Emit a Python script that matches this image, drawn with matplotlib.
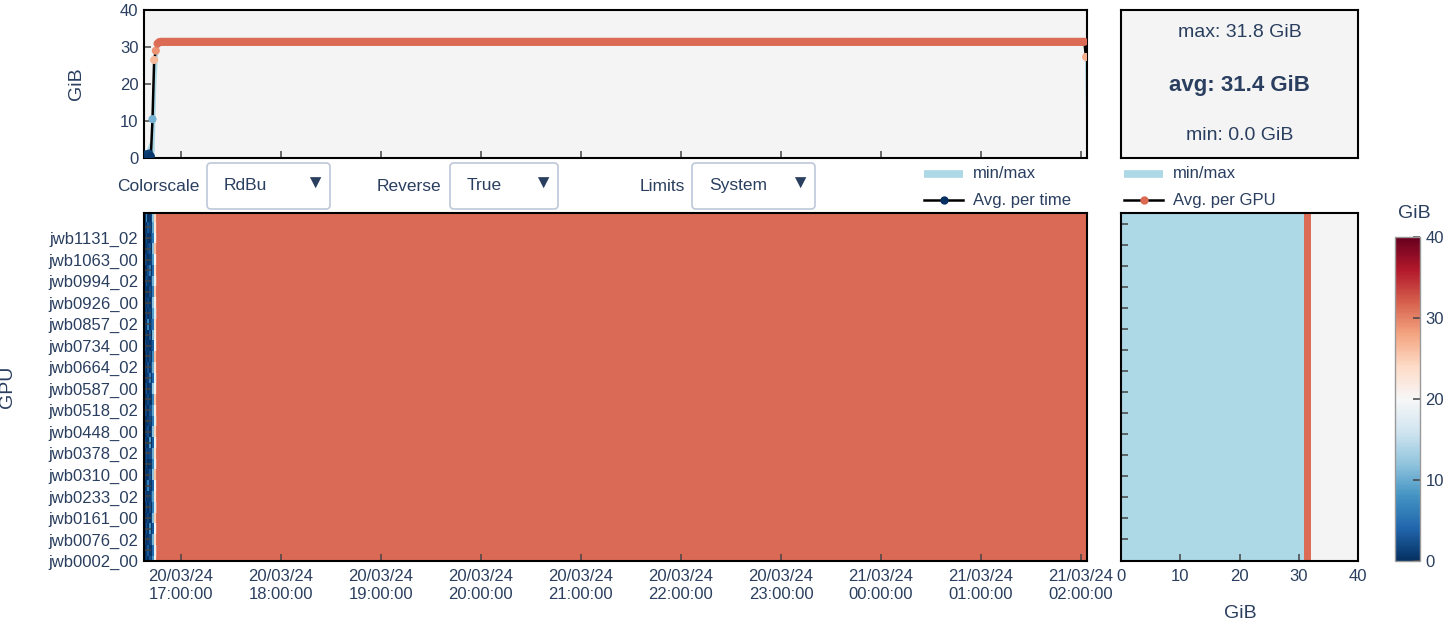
import matplotlib
matplotlib.use("Agg")
import matplotlib.pyplot as plt
import matplotlib.dates as mdates
from matplotlib.lines import Line2D
from matplotlib.patches import FancyBboxPatch
from matplotlib.transforms import IdentityTransform
import numpy as np
import pandas as pd

W, H = 1446, 624
text_color = "#2a3f5f"
plot_bg = "#f4f4f4"
tick_color = "#444444"
plt.rcParams["font.family"] = ["Liberation Sans", "DejaVu Sans"]
plt.rcParams["text.color"] = text_color

# ---- data ----
gpu_labels = ["jwb0002_00", "jwb0076_02", "jwb0161_00", "jwb0233_02", "jwb0310_00",
              "jwb0378_02", "jwb0448_00", "jwb0518_02", "jwb0587_00", "jwb0664_02",
              "jwb0734_00", "jwb0857_02", "jwb0926_00", "jwb0994_02", "jwb1063_00",
              "jwb1131_02"]

# one sample per minute
t_first = "2024-03-20 16:39"
t_last = "2024-03-21 02:03"

# avg / min / max over all GPUs per time step: start ramp, plateau, last sample
avg_ramp = [1.0, 0.6, 1.2, 0.5, 10.5, 26.5, 29.0, 30.9, 31.3]
min_ramp = [0.0, 0.0, 0.0, 0.0, 0.0, 2.0, 20.0, 28.0, 30.5]
max_ramp = [2.0, 3.0, 4.4, 2.0, 12.0, 28.0, 31.5, 31.8, 31.8]
avg_plateau, min_plateau, max_plateau = 31.4, 30.9, 31.8
avg_end, min_end, max_end = 27.3, 0.0, 31.8

# per GPU row: first minutes of the heatmap (GiB), bottom row first
heat_ramp = [
    [0.4, 1.2, 0.3, 2.5, 1.1, 8.0, 21.0, 30.2],
    [0.2, 0.8, 2.9, 0.6, 0.4, 4.5, 18.0, 29.5],
    [1.5, 0.3, 0.9, 1.8, 2.2, 10.5, 24.0, 30.8],
    [0.1, 2.4, 0.5, 7.5, 0.6, 3.0, 19.5, 29.8],
    [0.9, 0.4, 1.6, 0.2, 1.5, 11.0, 25.0, 30.9],
    [0.3, 1.9, 0.2, 2.2, 0.3, 6.0, 17.0, 29.1],
    [2.6, 0.5, 1.1, 0.8, 2.7, 9.0, 22.5, 30.4],
    [0.2, 0.9, 6.5, 1.4, 0.5, 4.0, 20.0, 30.0],
    [1.1, 0.2, 0.7, 2.8, 1.2, 12.0, 26.0, 31.0],
    [0.5, 1.6, 0.3, 0.4, 0.8, 7.0, 18.5, 29.6],
    [0.3, 2.2, 1.4, 1.9, 2.0, 10.0, 23.5, 30.6],
    [1.8, 0.4, 0.6, 8.5, 0.3, 3.5, 19.0, 29.7],
    [0.6, 1.0, 2.3, 0.3, 1.7, 11.5, 24.5, 30.8],
    [0.2, 0.3, 0.8, 1.6, 0.9, 5.5, 17.5, 29.3],
    [2.1, 1.4, 0.2, 2.4, 2.5, 9.5, 21.5, 30.3],
    [0.4, 0.6, 1.8, 0.5, 0.4, 6.5, 25.5, 30.9],
    [0.8, 2.7, 0.4, 1.2, 1.9, 12.5, 20.5, 30.1],
    [0.3, 0.5, 1.3, 6.0, 0.7, 4.0, 18.0, 29.4],
    [1.4, 0.2, 2.6, 0.7, 2.3, 10.0, 23.0, 30.5],
    [0.2, 1.7, 0.5, 2.1, 0.5, 7.5, 26.5, 31.0],
    [2.4, 0.6, 0.9, 0.3, 1.4, 3.5, 19.5, 29.8],
    [0.5, 1.1, 0.2, 2.7, 0.2, 11.0, 22.0, 30.4],
    [0.9, 0.3, 7.0, 0.9, 2.8, 5.0, 24.0, 30.7],
    [0.2, 2.0, 0.6, 1.5, 0.6, 9.0, 17.0, 29.2],
    [1.6, 0.4, 1.5, 0.4, 1.3, 12.0, 21.0, 30.2],
    [0.4, 0.8, 0.3, 2.3, 0.9, 6.0, 25.0, 30.9],
    [0.7, 2.5, 1.0, 0.6, 2.1, 10.5, 18.5, 29.6],
    [0.3, 0.2, 2.2, 5.5, 0.4, 4.5, 23.5, 30.6],
    [2.2, 1.3, 0.4, 1.0, 1.6, 8.5, 20.0, 30.0],
    [0.5, 0.6, 1.7, 2.6, 0.3, 11.5, 26.0, 31.0],
    [0.2, 1.8, 0.5, 0.2, 2.4, 5.5, 19.0, 29.7],
    [1.3, 0.4, 2.8, 1.7, 0.8, 9.5, 22.5, 30.4],
    [0.6, 7.8, 0.3, 0.5, 1.8, 12.0, 24.5, 30.8],
    [0.3, 0.9, 1.2, 2.0, 0.5, 7.0, 18.0, 29.4],
]

gpu_avg = [31.4] * 34
gpu_max = [31.8, 31.7, 31.8, 31.8, 31.7, 31.8, 31.7, 31.8, 31.8, 31.8, 31.7, 31.7,
           31.8, 31.8, 31.8, 31.7, 31.7, 31.8, 31.8, 31.8, 31.8, 31.7, 31.8, 31.7,
           31.8, 31.8, 31.7, 31.7, 31.8, 31.8, 31.8, 31.7, 31.7, 31.8]
gpu_min = [0.0] * 34

stat_max, stat_avg, stat_min = 31.8, 31.4, 0.0

# ---- assemble series ----
times = pd.date_range(t_first, t_last, freq="min")
n_plat = len(times) - len(avg_ramp) - 1
avg_t = np.array(avg_ramp + [avg_plateau] * n_plat + [avg_end])
min_t = np.array(min_ramp + [min_plateau] * n_plat + [min_end])
max_t = np.array(max_ramp + [max_plateau] * n_plat + [max_end])

ramp = np.array(heat_ramp)
n_rows = ramp.shape[0]
plateau_cols = len(times) - ramp.shape[1]
heat = np.hstack([ramp, np.repeat(np.array(gpu_avg)[:, None], plateau_cols, axis=1)])
row_y = np.arange(n_rows) * 0.5

x_lo = mdates.date2num(pd.Timestamp("2024-03-20 16:37:54"))
x_hi = mdates.date2num(pd.Timestamp("2024-03-21 02:03:36"))
hours = mdates.date2num(pd.date_range("2024-03-20 17:00", "2024-03-21 02:00", freq="h"))
cmap = plt.get_cmap("RdBu_r")


def rect(x0, y0, x1, y1):
    return [x0 / W, 1 - y1 / H, (x1 - x0) / W, (y1 - y0) / H]


def style_axes(ax):
    for s in ax.spines.values():
        s.set_color("black")
        s.set_linewidth(1.5)
    ax.tick_params(which="both", direction="in", length=5, width=1.1, color=tick_color,
                   labelsize=12, labelcolor=text_color, pad=4)


fig = plt.figure(figsize=(W / 100, H / 100), dpi=100)
fig.patch.set_facecolor("white")

# ---- top: avg per time ----
ax_top = fig.add_axes(rect(144, 10, 1087, 158))
ax_top.set_facecolor(plot_bg)
ax_top.fill_between(times, min_t, max_t, color="lightblue", lw=0, zorder=1)
ax_top.plot(times, avg_t, color="black", lw=1.8, zorder=2)
ax_top.scatter(times, avg_t, c=avg_t, cmap=cmap, vmin=0, vmax=40, s=34, linewidths=0, zorder=3)
ax_top.set_xlim(x_lo, x_hi)
ax_top.set_ylim(0, 40)
ax_top.set_yticks([0, 10, 20, 30, 40])
ax_top.set_xticks(hours)
ax_top.tick_params(labelbottom=False)
style_axes(ax_top)

# ---- stats box ----
ax_st = fig.add_axes(rect(1121, 10, 1358, 158))
ax_st.set_facecolor(plot_bg)
ax_st.set_xticks([])
ax_st.set_yticks([])
style_axes(ax_st)
ax_st.text(0.5, 0.851, f"max: {stat_max:.1f} GiB", ha="center", va="center", fontsize=14, transform=ax_st.transAxes)
ax_st.text(0.5, 0.493, f"avg: {stat_avg:.1f} GiB", ha="center", va="center", fontsize=16,
           fontweight="bold", transform=ax_st.transAxes)
ax_st.text(0.5, 0.155, f"min: {stat_min:.1f} GiB", ha="center", va="center", fontsize=14, transform=ax_st.transAxes)

# ---- heatmap ----
ax_h = fig.add_axes(rect(144, 213, 1087, 561))
im = ax_h.imshow(heat, aspect="auto", origin="lower", cmap=cmap, vmin=0, vmax=40,
                 interpolation="nearest", extent=[x_lo, x_hi, -0.25, n_rows * 0.5 - 0.25])
ax_h.set_xlim(x_lo, x_hi)
ax_h.set_ylim(0, 16.16)
ax_h.set_xticks(hours)
ax_h.xaxis.set_major_formatter(mdates.DateFormatter("%d/%m/%y\n%H:%M:%S"))
ax_h.set_yticks(np.arange(len(gpu_labels)))
ax_h.set_yticklabels(gpu_labels)
ax_h.set_yticks(np.arange(len(gpu_labels)) + 0.5, minor=True)
style_axes(ax_h)
ax_h.tick_params(axis="x", pad=6)

# ---- right: per GPU ----
ax_g = fig.add_axes(rect(1121, 213, 1358, 561))
ax_g.set_facecolor(plot_bg)
ax_g.fill_betweenx(row_y, gpu_min, gpu_max, color="lightblue", lw=0, zorder=1)
ax_g.plot(gpu_avg, row_y, color=cmap(np.mean(gpu_avg) / 40), lw=5, solid_capstyle="butt", zorder=2)
ax_g.set_xlim(0, 40)
ax_g.set_ylim(0, 16.16)
ax_g.set_xticks([0, 10, 20, 30, 40])
ax_g.set_yticks((561 - (539 - 21 * np.arange(16))) / 21.53)
ax_g.tick_params(labelleft=False)
style_axes(ax_g)
ax_g.tick_params(axis="x", pad=6)

# ---- colorbar ----
ax_cb = fig.add_axes(rect(1395, 237, 1420, 561))
cb = fig.colorbar(im, cax=ax_cb, ticks=[0, 10, 20, 30, 40])
cb.outline.set_edgecolor("#999999")
cb.outline.set_linewidth(1)
ax_cb.tick_params(direction="in", length=5, width=1.1, color=tick_color, labelsize=12,
                  labelcolor=text_color, pad=4)

# ---- titles ----
fig.text(77 / W, 1 - 84 / H, "GiB", rotation=90, ha="center", va="center", fontsize=14)
fig.text(8 / W, 1 - 387 / H, "GPU", rotation=90, ha="center", va="center", fontsize=14)
fig.text(1240 / W, 1 - 614 / H, "GiB", ha="center", va="center", fontsize=14)
fig.text(1414 / W, 1 - 214 / H, "GiB", ha="center", va="center", fontsize=14)

# ---- dropdowns ----
idt = IdentityTransform()
menus = [("Colorscale", 117, 207, 330, "RdBu"),
         ("Reverse", 377, 450, 558, "True"),
         ("Limits", 640, 692, 815, "System")]
for label, lx, bx0, bx1, value in menus:
    fig.text(lx / W, 1 - 186 / H, label, ha="left", va="center", fontsize=12.5)
    box = FancyBboxPatch((bx0, H - 209), bx1 - bx0, 46, boxstyle="round,pad=0,rounding_size=4",
                         fc="white", ec="#bec8d9", lw=1.2, transform=idt)
    fig.add_artist(box)
    fig.text((bx0 + 17) / W, 1 - 185 / H, value, ha="left", va="center", fontsize=12.5)
    fig.text((bx1 - 15) / W, 1 - 184 / H, "\u25bc", ha="center", va="center", fontsize=14)

# ---- legends ----
for lx, avg_label, mcol in [(924, "Avg. per time", cmap(0.0)), (1124, "Avg. per GPU", cmap(31.4 / 40))]:
    fig.add_artist(Line2D([lx, lx + 39], [H - 174, H - 174], color="lightblue", lw=5.5,
                          solid_capstyle="butt", transform=idt))
    fig.text((lx + 49) / W, 1 - 174 / H, "min/max", ha="left", va="center", fontsize=12)
    fig.add_artist(Line2D([lx, lx + 39], [H - 200, H - 200], color="black", lw=1.8, transform=idt))
    fig.add_artist(Line2D([lx + 19.5], [H - 200], marker="o", ms=5, color=mcol, lw=0, transform=idt))
    fig.text((lx + 49) / W, 1 - 200 / H, avg_label, ha="left", va="center", fontsize=12)

fig.savefig("out.png", dpi=100, facecolor=fig.get_facecolor())
